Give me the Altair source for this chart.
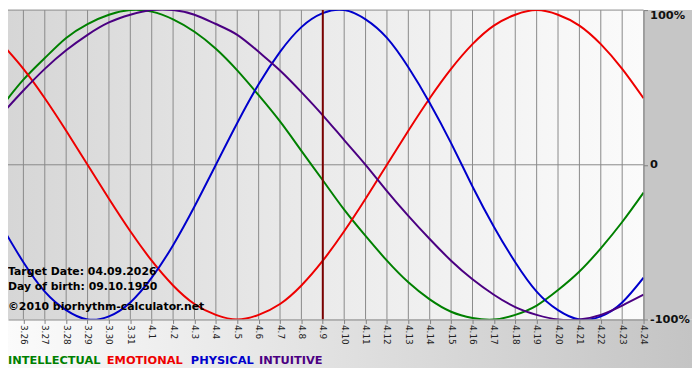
import altair as alt
import pandas as pd

days = ["3.25", "3.26", "3.27", "3.28", "3.29", "3.30", "3.31",
        "4.1", "4.2", "4.3", "4.4", "4.5", "4.6", "4.7", "4.8", "4.9",
        "4.10", "4.11", "4.12", "4.13", "4.14", "4.15", "4.16", "4.17",
        "4.18", "4.19", "4.20", "4.21", "4.22", "4.23", "4.24"]

intellectual = [38, 55, 69, 82, 91, 97, 100, 99, 94, 86, 75, 61, 45, 28, 9, -10,
                -29, -46, -62, -76, -87, -95, -99, -100, -97, -91, -81, -69, -54, -37, -18]
emotional = [78, 62, 43, 22, 0, -22, -43, -62, -78, -90, -97, -100, -97, -90, -78, -62,
             -43, -22, 0, 22, 43, 62, 78, 90, 97, 100, 97, 90, 78, 62, 43]
physical = [-40, -63, -82, -94, -100, -98, -89, -73, -52, -27, 0, 27, 52, 73, 89, 98,
            100, 94, 82, 63, 40, 14, -14, -40, -63, -82, -94, -100, -98, -89, -73]
intuitive = [33, 48, 62, 74, 84, 92, 97, 100, 100, 97, 91, 84, 73, 61, 47, 32,
             16, 0, -17, -33, -48, -62, -74, -84, -92, -97, -100, -100, -97, -91, -84]

series_names = ["INTELLECTUAL", "EMOTIONAL", "PHYSICAL", "INTUITIVE"]
series_colors = ["#008000", "#ee0000", "#0000cc", "#4b0082"]
target_day = "4.9"
info_lines = ["Target Date: 04.09.2026", "Day of birth: 09.10.1950",
              "\u00a92010 biorhythm-calculator.net"]
y_ticks = [-100, 0, 100]

rows = []
for name, vals in zip(series_names, [intellectual, emotional, physical, intuitive]):
    for i, v in enumerate(vals):
        rows.append({"i": i, "day": days[i], "series": name, "value": v})
df = pd.DataFrame(rows)
days_df = pd.DataFrame({"i": list(range(len(days))), "day": days})
target_df = pd.DataFrame({"i": [days.index(target_day)]})
one = pd.DataFrame({"a": [0]})
zero_df = pd.DataFrame({"v": [0, 100]})

W, H = 643, 313
PR, PB = 49, 49

xscale = alt.Scale(domain=[0.28, len(days) - 1], nice=False, zero=False)
yscale = alt.Scale(domain=[-100, 100], nice=False, zero=False)

label_expr = "[" + ",".join("'%s'" % d for d in days) + "][datum.value]"

xaxis = alt.Axis(values=list(range(len(days))), labelExpr=label_expr, labelAngle=90,
                 labelFont="DejaVu Sans", labelFontSize=9, labelColor="#222222",
                 tickColor="#808080", tickSize=4, domainColor="#808080",
                 labelPadding=1, title=None, grid=False, labelOverlap=False,
                 labelSeparation=0, labelBound=False, labelFlush=False,
                 zindex=1)
yaxis = alt.Axis(orient="right", values=y_ticks,
                 labelExpr="datum.value == 0 ? '0' : datum.value + '%'",
                 labelFont="DejaVu Sans", labelFontSize=11.5, labelFontWeight="bold",
                 labelColor="#111111", tickColor="#808080", tickSize=4,
                 domainColor="#808080", labelPadding=2, title=None, grid=False,
                 zindex=1, labelOverlap=False, labelFlush=False,
                 labelBaseline={"condition": {"test": "datum.value == 100", "value": "top"},
                                "value": "middle"})

bg = alt.Chart(one).mark_rect(
    fill=alt.Gradient(gradient="linear",
                      stops=[alt.GradientStop(color="#d6d6d6", offset=0),
                             alt.GradientStop(color="#ebebeb", offset=0.5),
                             alt.GradientStop(color="#fbfbfb", offset=1)],
                      x1=0, x2=1, y1=0, y2=0)
).encode(x=alt.value(0), x2=alt.value(W), y=alt.value(0), y2=alt.value(H))

panel = alt.Chart(one).mark_rect(fill="#c6c6c6").encode(
    x=alt.value(W), x2=alt.value(W + PR), y=alt.value(0), y2=alt.value(H))

band = alt.Chart(one).mark_rect(
    fill=alt.Gradient(gradient="linear",
                      stops=[alt.GradientStop(color="#fbfbfb", offset=0),
                             alt.GradientStop(color="#c4c4c4", offset=1)],
                      x1=0, x2=1, y1=0, y2=0)
).encode(x=alt.value(0), x2=alt.value(W + PR), y=alt.value(H), y2=alt.value(H + PB))

grid = alt.Chart(days_df).mark_rule(color="#8a8a8a", strokeWidth=1, clip=True).encode(
    x=alt.X("i:Q", scale=xscale, axis=xaxis))
hlines = alt.Chart(zero_df).mark_rule(color="#8a8a8a", strokeWidth=1).encode(
    y=alt.Y("v:Q", scale=yscale, axis=yaxis))

lines = alt.Chart(df).mark_line(strokeWidth=2, interpolate="natural", clip=True).encode(
    x=alt.X("i:Q", scale=xscale, axis=xaxis),
    y=alt.Y("value:Q", scale=yscale, axis=yaxis),
    color=alt.Color("series:N", scale=alt.Scale(domain=series_names, range=series_colors),
                    legend=None),
)

target = alt.Chart(target_df).mark_rule(color="#7a0000", strokeWidth=2).encode(
    x=alt.X("i:Q", scale=xscale, axis=xaxis))

layers = [bg, panel, band, grid, hlines, lines, target]

info_y = [268, 283, 303]
for txt, yy in zip(info_lines, info_y):
    layers.append(alt.Chart(one).mark_text(
        text=txt, align="left", baseline="alphabetic", font="DejaVu Sans",
        fontWeight="bold", fontSize=11, color="#000000"
    ).encode(x=alt.value(0), y=alt.value(yy)))

legend_x = [0, 100, 185, 254]
for name, col, xx in zip(series_names, series_colors, legend_x):
    layers.append(alt.Chart(one).mark_text(
        text=name, align="left", baseline="alphabetic", font="DejaVu Sans",
        fontWeight="bold", fontSize=11.5, color=col
    ).encode(x=alt.value(xx), y=alt.value(358)))

chart = alt.layer(*layers).properties(
    width=W, height=H,
    padding={"left": 0, "top": 0, "right": PR, "bottom": PB},
    autosize=alt.AutoSizeParams(type="none"),
).configure_view(stroke=None)

chart.save("out.html", embed_options={"renderer": "svg", "actions": False})
